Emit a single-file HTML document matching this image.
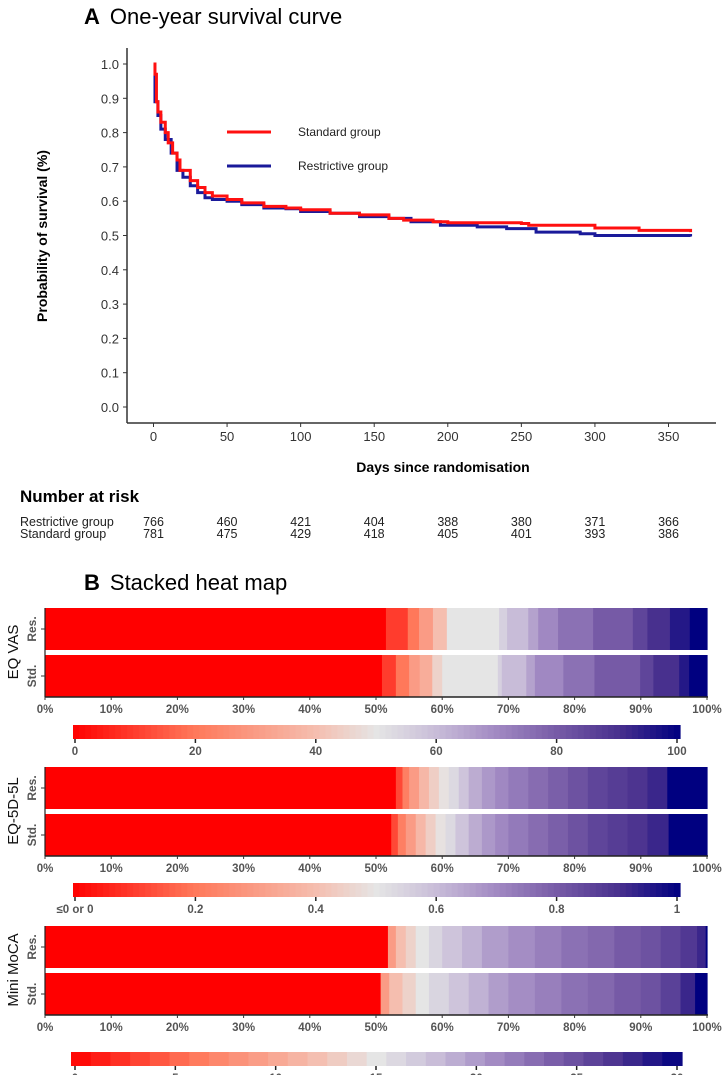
<!DOCTYPE html>
<html><head><meta charset="utf-8">
<style>
body{margin:0;background:#fff;width:724px;height:1075px;overflow:hidden;font-family:"Liberation Sans",sans-serif;}
svg{display:block}
</style></head>
<body>
<svg id="fig" width="724" height="1075" xmlns="http://www.w3.org/2000/svg">
<text x="84" y="24" font-size="22"><tspan font-weight="bold">A</tspan><tspan dx="10">One-year survival curve</tspan></text>
<g id="survival"></g>
<text x="84" y="590" font-size="22"><tspan font-weight="bold">B</tspan><tspan dx="10">Stacked heat map</tspan></text>
<g id="heat"></g>
</svg>
<script>
// ---------- Survival data ----------
const stdDays = [0,1,2,3,5,8,10,13,16,18,25,30,35,40,50,60,75,90,100,120,140,160,170,190,200,250,255,300,330,365];
const stdProb = [1.0,0.97,0.89,0.86,0.83,0.80,0.77,0.74,0.72,0.69,0.66,0.64,0.625,0.615,0.605,0.595,0.585,0.58,0.575,0.565,0.56,0.55,0.545,0.54,0.537,0.535,0.53,0.522,0.515,0.51];
const resDays = [0,1,3,5,8,12,16,20,25,30,35,40,50,60,75,90,100,120,140,160,175,195,220,240,260,290,300,365];
const resProb = [0.97,0.89,0.85,0.81,0.78,0.74,0.69,0.67,0.645,0.625,0.61,0.605,0.60,0.59,0.58,0.578,0.57,0.565,0.555,0.55,0.54,0.53,0.525,0.52,0.51,0.505,0.50,0.497];
const xTicks = [0,50,100,150,200,250,300,350];
const yTicks = [0,0.1,0.2,0.3,0.4,0.5,0.6,0.7,0.8,0.9,1.0];
const riskRes = [766,460,421,404,388,380,371,366];
const riskStd = [781,475,429,418,405,401,393,386];

// ---------- Heatmap data (cumulative % end, normalized value 0-1) ----------
const vasResEnd = [51.5,54.8,56.5,58.6,60.7,68.6,69.8,73,74.5,77.5,82.8,88.8,91,94.4,97.4,100];
const vasResVal = [0,0.1,0.2,0.3,0.4,0.5,0.55,0.6,0.65,0.7,0.75,0.8,0.85,0.9,0.95,1];
const vasStdEnd = [50.9,53,55,56.6,58.5,60,68.4,69,72.7,74,78.3,83,89.9,91.9,95.8,97.3,100];
const vasStdVal = [0,0.1,0.2,0.3,0.35,0.45,0.5,0.55,0.6,0.65,0.7,0.75,0.8,0.85,0.9,0.95,1];
const eqResEnd = [53,54,55,56.5,58,59.5,61,62.5,64,66,68,70,73,76,79,82,85,88,91,94,100];
const eqResVal = [0,0.12,0.22,0.3,0.38,0.44,0.49,0.53,0.58,0.63,0.67,0.7,0.73,0.76,0.79,0.82,0.85,0.87,0.89,0.92,1];
const eqStdEnd = [52.3,53.3,54.5,56,57.5,59,60.5,62,64,66,68,70,73,76,79,82,85,88,91,94.2,100];
const eqStdVal = [0,0.12,0.22,0.3,0.38,0.44,0.49,0.53,0.58,0.63,0.67,0.7,0.73,0.76,0.79,0.82,0.85,0.87,0.89,0.92,1];
const mocaResEnd = [51.8,53,54.5,56,58,60,63,66,70,74,78,82,86,90,93,96,98.5,99.8,100];
const mocaResVal = [0,0.3,0.4,0.45,0.5,0.54,0.58,0.62,0.66,0.69,0.72,0.75,0.77,0.8,0.82,0.85,0.88,0.92,1];
const mocaStdEnd = [50.7,52,54,56,58,61,64,67,70,74,78,82,86,90,93,96,98.2,100];
const mocaStdVal = [0,0.3,0.4,0.45,0.5,0.54,0.58,0.62,0.66,0.69,0.72,0.75,0.77,0.8,0.82,0.86,0.92,1];
const pctTicks = [0,10,20,30,40,50,60,70,80,90,100];
const vasCbTicks = ["0","20","40","60","80","100"];
const eqCbTicks = ["≤0 or 0","0.2","0.4","0.6","0.8","1"];
const mocaCbTicks = ["0","5","10","15","20","25","30"];

const NS = "http://www.w3.org/2000/svg";
function mk(tag, attrs, parent, text){
  const e = document.createElementNS(NS, tag);
  for (const k in attrs) e.setAttribute(k, attrs[k]);
  if (text !== undefined) e.textContent = text;
  parent.appendChild(e); return e;
}
// ---- survival axes ----
const sx = d => 153.5 + d * (515/350);
const sy = p => 407 - p * 343;
const S = document.getElementById('survival');
let ax = mk('line', {x1:127,y1:48,x2:127,y2:423,stroke:'#333','stroke-width':1.5}, S);


ax = mk('line', {x1:127,y1:423,x2:716,y2:423,stroke:'#333','stroke-width':1.5}, S);


yTicks.forEach(v=>{
  mk('line',{x1:123,y1:sy(v),x2:127,y2:sy(v),stroke:'#333'},S);
  const t = mk('text',{x:119,y:sy(v)+5,'text-anchor':'end','font-size':13,fill:'#333'},S,v.toFixed(1));
  
  
});
xTicks.forEach((v,i)=>{
  mk('line',{x1:sx(v),y1:423,x2:sx(v),y2:427,stroke:'#333'},S);
  const t = mk('text',{x:sx(v),y:441,'text-anchor':'middle','font-size':13,fill:'#333'},S,String(v));
  
  
  const a = mk('text',{x:sx(v),y:526,'text-anchor':'middle','font-size':12.5,fill:'#222'},S,String(riskRes[i]));
  
  
  const b = mk('text',{x:sx(v),y:538,'text-anchor':'middle','font-size':12.5,fill:'#222'},S,String(riskStd[i]));
  
  
});
let tt = mk('text',{transform:'translate(47,236) rotate(-90)','text-anchor':'middle','font-size':14,'font-weight':'bold'},S,'Probability of survival (%)');


tt = mk('text',{x:443,y:472,'text-anchor':'middle','font-size':14,'font-weight':'bold'},S,'Days since randomisation');


tt = mk('text',{x:20,y:502,'font-size':17,'font-weight':'bold'},S,'Number at risk');


tt = mk('text',{x:20,y:526,'font-size':12.5,fill:'#222'},S,'Restrictive group');


tt = mk('text',{x:20,y:538,'font-size':12.5,fill:'#222'},S,'Standard group');


function stepPath(days, probs){
  let d = 'M'+sx(days[0])+','+sy(probs[0]);
  for (let i=1;i<days.length;i++){ d += ' H'+sx(days[i])+' V'+sy(probs[i]); }
  return d;
}
let ln = mk('path',{d:stepPath(resDays,resProb),fill:'none',stroke:'#1a1a9a','stroke-width':3},S);


ln = mk('path',{d:stepPath(stdDays,stdProb),fill:'none',stroke:'#ff1010','stroke-width':3},S);


let lg = mk('line',{x1:227,y1:132,x2:271,y2:132,stroke:'#ff1010','stroke-width':3},S);


lg = mk('text',{x:298,y:136,'font-size':12,fill:'#222'},S,'Standard group');


lg = mk('line',{x1:227,y1:166,x2:271,y2:166,stroke:'#1a1a9a','stroke-width':3},S);


lg = mk('text',{x:298,y:170,'font-size':12,fill:'#222'},S,'Restrictive group');



// ---- heatmap ----
const stops = [[0,[255,0,0]],[0.2,[255,120,90]],[0.4,[245,190,175]],[0.5,[229,229,229]],[0.6,[200,188,216]],[0.7,[160,136,194]],[0.8,[118,90,166]],[0.9,[72,48,142]],[1,[0,0,128]]];
function col(t){
  for (let i=1;i<stops.length;i++){
    if (t<=stops[i][0]){
      const a=stops[i-1], b=stops[i], f=(t-a[0])/(b[0]-a[0]);
      const c=a[1].map((v,k)=>Math.round(v+(b[1][k]-v)*f));
      return 'rgb('+c.join(',')+')';
    }
  }
  return 'rgb(0,0,128)';
}
const hx = p => 45 + p * 6.62;
const H = document.getElementById('heat');
function row(ends, vals, y, h, name){
  let prev = 0;
  ends.forEach((e,i)=>{
    const r = mk('rect',{x:hx(prev),y:y,width:hx(e)-hx(prev)+0.6,height:h,fill:col(vals[i])},H);
    
    
    prev = e;
  });
}
function panel(label, top, resE, resV, stdE, stdV, cbTop, cbTicks, cbLeft, cbRight, nBlocks, pfx){
  row(resE,resV,top,42,pfx+'-res');
  row(stdE,stdV,top+47,42,pfx+'-std');
  const base = top+89;
  mk('line',{x1:45,y1:top,x2:45,y2:base,stroke:'#222','stroke-width':1.2},H);
  mk('line',{x1:45,y1:base,x2:708,y2:base,stroke:'#222','stroke-width':1.5},H);
  mk('line',{x1:41,y1:top+21,x2:45,y2:top+21,stroke:'#333'},H);
  mk('line',{x1:41,y1:top+68,x2:45,y2:top+68,stroke:'#333'},H);
  let t = mk('text',{transform:'translate(36,'+(top+21)+') rotate(-90)','text-anchor':'middle','font-size':12,'font-weight':'bold',fill:'#555'},H,'Res.');
  
  
  t = mk('text',{transform:'translate(36,'+(top+68)+') rotate(-90)','text-anchor':'middle','font-size':12,'font-weight':'bold',fill:'#555'},H,'Std.');
  
  
  t = mk('text',{transform:'translate(18,'+(top+44)+') rotate(-90)','text-anchor':'middle','font-size':15,fill:'#111'},H,label);
  
  
  pctTicks.forEach(p=>{
    mk('line',{x1:hx(p),y1:base,x2:hx(p),y2:base+3,stroke:'#333'},H);
    const l = mk('text',{x:hx(p),y:base+16,'text-anchor':'middle','font-size':11.5,'font-weight':'bold',fill:'#555'},H,p+'%');
    
    
  });
  const w = (cbRight-cbLeft)/nBlocks;
  for (let i=0;i<nBlocks;i++){
    mk('rect',{x:cbLeft+i*w,y:cbTop,width:w+0.6,height:14,fill:col((i+0.5)/nBlocks)},H);
  }
  const n = cbTicks.length-1;
  cbTicks.forEach((s,i)=>{
    const x = 75 + i*(602/n);
    mk('line',{x1:x,y1:cbTop+14,x2:x,y2:cbTop+18,stroke:'#222','stroke-width':1.5},H);
    const l = mk('text',{x:x,y:cbTop+30,'text-anchor':'middle','font-size':11.5,'font-weight':'bold',fill:'#555'},H,s);
    
    
  });
}
panel('EQ VAS',608,vasResEnd,vasResVal,vasStdEnd,vasStdVal,725,vasCbTicks,73,680,101,'eqvas');
panel('EQ-5D-5L',767,eqResEnd,eqResVal,eqStdEnd,eqStdVal,883,eqCbTicks,73,680,101,'eq5d');
panel('Mini MoCA',926,mocaResEnd,mocaResVal,mocaStdEnd,mocaStdVal,1052,mocaCbTicks,71,682,31,'moca');
</script>
</body></html>
